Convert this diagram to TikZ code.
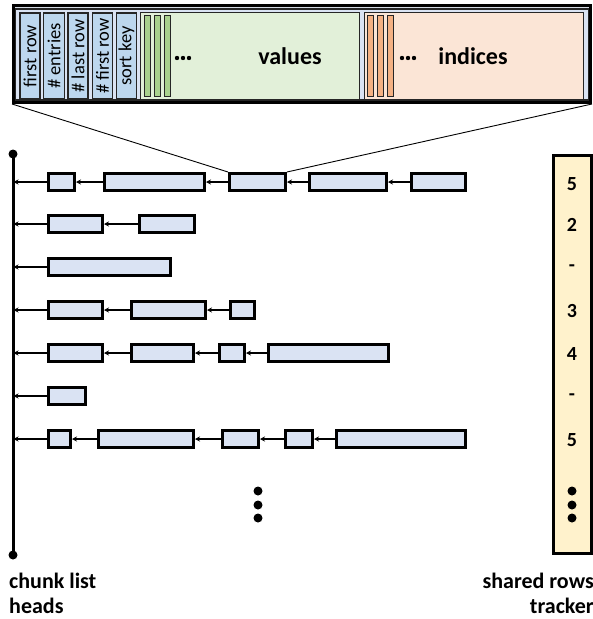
\documentclass[tikz,border=0pt]{standalone}
\usepackage{fontspec}
\setmainfont{Carlito}
\usetikzlibrary{arrows.meta}
\definecolor{chunkfill}{HTML}{DAE3F3}
\definecolor{outerfill}{HTML}{D6DCE5}
\definecolor{fieldfill}{HTML}{BDD7EE}
\definecolor{valfill}{HTML}{E2F0D9}
\definecolor{valstripe}{HTML}{A9D18E}
\definecolor{idxfill}{HTML}{FBE5D6}
\definecolor{idxstripe}{HTML}{F4B183}
\definecolor{trackfill}{HTML}{FFF2CC}
\definecolor{edge}{HTML}{262626}
\tikzset{
  chunkbox/.style={draw=black, fill=chunkfill, line width=2.6pt, minimum height=17.4pt, inner sep=0pt},
  link/.style={line width=1.4pt, -{Stealth[length=5pt,width=5pt]}},
  field/.style={draw=edge, fill=fieldfill, line width=1.1pt, inner sep=0pt},
  stripe/.style={draw=edge, line width=1pt, inner sep=0pt},
  fieldtext/.style={rotate=90, font=\fontsize{18.5}{18.5}\selectfont, inner sep=0pt},
  lbl/.style={font=\fontsize{22}{25}\selectfont\bfseries, inner sep=0pt},
  biglbl/.style={font=\fontsize{24}{25}\selectfont\bfseries, inner sep=0pt},
  num/.style={font=\fontsize{20}{20}\selectfont\bfseries, inner sep=0pt},
}
\newcommand\chunkbox[4]{\node[chunkbox, minimum width={#3-#2-2.6}] (#1) at ({(#2+#3)/2},#4) {};}
\begin{document}
\begin{tikzpicture}[x=1pt,y=-1pt]
\useasboundingbox (0,0) rectangle (593,619);

% ---------- top record ----------
\node[draw=black, fill=outerfill, line width=3pt, minimum width=577pt, minimum height=97pt, inner sep=0pt] (top) at (302,54) {};
\node[draw=edge, fill=chunkfill, line width=1.1pt, minimum width=573pt, minimum height=91pt, inner sep=0pt] (panel) at (302,54.5) {};
\node[field, minimum width=20pt, minimum height=86pt] (f1) at (30,56) {};
\node[field, minimum width=21pt, minimum height=86pt] (f2) at (54,56) {};
\node[field, minimum width=20pt, minimum height=86pt] (f3) at (78,56) {};
\node[field, minimum width=20pt, minimum height=86pt] (f4) at (102.5,56) {};
\node[field, minimum width=20pt, minimum height=86pt] (f5) at (126.5,56) {};
\node[fieldtext] at (f1) {first row};
\node[fieldtext] at (f2) {\# entries};
\node[fieldtext] at (f3) {\# last row};
\node[fieldtext] at (f4) {\# first row};
\node[fieldtext] at (f5) {sort key};

\node[field, fill=valfill, minimum width=219pt, minimum height=87pt] (vals) at (250,56) {};
\node[stripe, fill=valstripe, minimum width=6pt, minimum height=81pt] (vs1) at (147.5,56) {};
\node[stripe, fill=valstripe, minimum width=6pt, minimum height=81pt] (vs2) at (157.5,56) {};
\node[stripe, fill=valstripe, minimum width=6pt, minimum height=81pt] (vs3) at (167.5,56) {};
\foreach \x in {177,183,189} \fill (\x,58) circle (2.2pt);
\node[biglbl] (vlab) at (290,56) {values};

\node[field, fill=idxfill, minimum width=219pt, minimum height=87pt] (idx) at (474,56) {};
\node[stripe, fill=idxstripe, minimum width=6pt, minimum height=81pt] (is1) at (370.5,56) {};
\node[stripe, fill=idxstripe, minimum width=6pt, minimum height=81pt] (is2) at (380.5,56) {};
\node[stripe, fill=idxstripe, minimum width=6pt, minimum height=81pt] (is3) at (390.5,56) {};
\foreach \x in {402,408,414} \fill (\x,58) circle (2.2pt);
\node[biglbl] (ilab) at (473,56) {indices};

% ---------- chunk list heads ----------
\coordinate (htop) at (13,154);
\coordinate (hbot) at (13,555);
\draw[line width=3pt] (htop) -- (hbot);
\fill (htop) circle (4.5pt);
\fill (hbot) circle (4.5pt);
\foreach \i/\y in {1/182,2/224,3/267,4/310,5/353,6/396,7/439}
  \coordinate (h\i) at (13.5,\y);

% row 1
\chunkbox{r1a}{47}{76}{182}
\chunkbox{r1b}{103}{206}{182}
\chunkbox{r1c}{228}{287}{182}
\chunkbox{r1d}{308}{388}{182}
\chunkbox{r1e}{410}{467}{182}
\draw[link] (r1a.west) -- (h1);
\draw[link] (r1b.west) -- (r1a.east);
\draw[link] (r1c.west) -- (r1b.east);
\draw[link] (r1d.west) -- (r1c.east);
\draw[link] (r1e.west) -- (r1d.east);
% row 2
\chunkbox{r2a}{47}{104}{224}
\chunkbox{r2b}{138}{196}{224}
\draw[link] (r2a.west) -- (h2);
\draw[link] (r2b.west) -- (r2a.east);
% row 3
\chunkbox{r3a}{47}{172}{267}
\draw[link] (r3a.west) -- (h3);
% row 4
\chunkbox{r4a}{47}{104}{310}
\chunkbox{r4b}{130}{207}{310}
\chunkbox{r4c}{229}{256}{310}
\draw[link] (r4a.west) -- (h4);
\draw[link] (r4b.west) -- (r4a.east);
\draw[link] (r4c.west) -- (r4b.east);
% row 5
\chunkbox{r5a}{47}{104}{353}
\chunkbox{r5b}{130}{195}{353}
\chunkbox{r5c}{218}{246}{353}
\chunkbox{r5d}{267}{390}{353}
\draw[link] (r5a.west) -- (h5);
\draw[link] (r5b.west) -- (r5a.east);
\draw[link] (r5c.west) -- (r5b.east);
\draw[link] (r5d.west) -- (r5c.east);
% row 6
\chunkbox{r6a}{47}{87}{396}
\draw[link] (r6a.west) -- (h6);
% row 7
\chunkbox{r7a}{47}{72}{439}
\chunkbox{r7b}{97}{195}{439}
\chunkbox{r7c}{221}{260}{439}
\chunkbox{r7d}{284}{314}{439}
\chunkbox{r7e}{335}{467}{439}
\draw[link] (r7a.west) -- (h7);
\draw[link] (r7b.west) -- (r7a.east);
\draw[link] (r7c.west) -- (r7b.east);
\draw[link] (r7d.west) -- (r7c.east);
\draw[link] (r7e.west) -- (r7d.east);

\foreach \y in {491,505,518} \fill (258,\y) circle (4.5pt);

% zoom lines
\draw[line width=0.9pt] (top.south west) -- (r1c.north west);
\draw[line width=0.9pt] (top.south east) -- (r1c.north east);

% ---------- shared rows tracker ----------
\node[draw=black, fill=trackfill, line width=3pt, minimum width=38pt, minimum height=398pt, inner sep=0pt] (tracker) at (572,354.5) {};
\node[num] at (572,184) {5};
\node[num] at (572,225) {2};
\node[num] at (572,268) {-};
\node[num] at (572,311) {3};
\node[num] at (572,354) {4};
\node[num] at (572,397) {-};
\node[num] at (572,440) {5};
\foreach \y in {491,505,518} \fill (572,\y) circle (4.5pt);

% ---------- captions ----------
\node[lbl, anchor=base west] (cl1) at (9,588) {chunk list};
\node[lbl, anchor=base west] (cl2) at (9,613) {heads};
\node[lbl, anchor=base east] (sr1) at (594,588) {shared rows};
\node[lbl, anchor=base east] (sr2) at (594,613) {tracker};
\end{tikzpicture}
\end{document}
